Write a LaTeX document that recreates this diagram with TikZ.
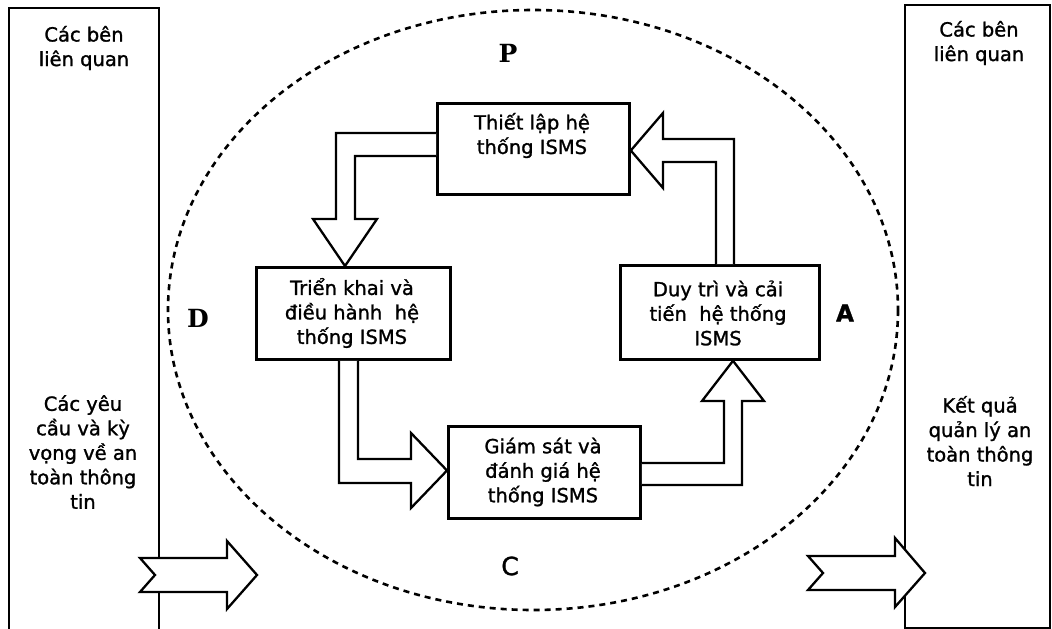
\documentclass[tikz,border=0pt]{standalone}
\usepackage{fontspec}
\setmainfont{DejaVu Sans}[RawFeature={embolden=1.3}]
\newfontfamily\pfont{DejaVu Serif}
\usetikzlibrary{calc}
\begin{document}
\begin{tikzpicture}[x=1pt,y=-1pt,
  proc/.style={draw, line width=2.8pt, inner sep=0pt, anchor=north west},
  txt/.style={align=center, font=\fontsize{19.5}{24.5}\selectfont, inner sep=0pt},
  blk/.style={draw, fill=white, line width=2.3pt, line join=miter},
  side/.style={line width=2.5pt},
  letter/.style={inner sep=0pt}
]
\useasboundingbox (0,0) rectangle (1052,629);

% side boxes
\draw[side] (9,632) -- (9,8) -- (159,8) -- (159,632);
\draw[side] (905,5) rectangle (1050,628);
\node[txt] (lt) at (84,48) {Các bên\\liên quan};
\node[txt] (lb) at (83,452) {Các yêu\\cầu và kỳ\\vọng về an\\toàn thông\\tin};
\node[txt] (rt) at (979,43) {Các bên\\liên quan};
\node[txt] (rb) at (980,441) {Kết quả\\quản lý an\\toàn thông\\tin};

% dashed cycle
\draw[line width=2.6pt, dash pattern=on 6pt off 5pt] (533,310) ellipse [x radius=365, y radius=300];

% PDCA letters
\node[letter, font=\pfont\bfseries\fontsize{25}{25}\selectfont] (P) at (508,53) {P};
\node[letter, font=\pfont\bfseries\fontsize{25}{25}\selectfont] (D) at (198,318) {D};
\node[letter, font=\bfseries\fontsize{23}{23}\selectfont] (A) at (845,313) {A};
\node[letter, font=\fontsize{25}{25}\selectfont] (C) at (510,566) {C};

% process boxes
\node[proc, minimum width=192pt, minimum height=91pt] (plan) at (436,102) {};
\node[proc, minimum width=194pt, minimum height=92pt] (do) at (255,266) {};
\node[proc, minimum width=199pt, minimum height=94pt] (act) at (619,264) {};
\node[proc, minimum width=192pt, minimum height=92pt] (check) at (447,425) {};

\node[txt] (plant) at (532,135.5) {Thiết lập hệ\\thống ISMS};
\node[txt] (dot) at (352,313) {Triển khai và\\điều hành~~hệ\\thống ISMS};
\node[txt] (actt) at (718,313) {Duy trì và cải\\tiến~~hệ thống\\ISMS};
\node[txt] (checkt) at (543,472) {Giám sát và\\đánh giá hệ\\thống ISMS};

% hollow block arrows of the cycle
\draw[blk] (plan.west |- 0,133) -- (336,133) -- (336,219) -- (313,219) -- (do.north -| 345,0)
  -- (377,219) -- (355,219) -- (355,156) -- (plan.west |- 0,156);
\draw[blk] (do.south -| 339,0) -- (339,483) -- (411,483) -- (411,508) -- (check.west |- 0,470.5)
  -- (411,433) -- (411,459) -- (358,459) -- (do.south -| 358,0);
\draw[blk] (check.east |- 0,463) -- (724,463) -- (724,401) -- (702,401) -- (act.south -| 733,0)
  -- (764,401) -- (742,401) -- (742,485) -- (check.east |- 0,485);
\draw[blk] (act.north -| 716,0) -- (716,162) -- (663,162) -- (663,188) -- (plan.east |- 0,150.5)
  -- (663,113) -- (663,139) -- (734,139) -- (act.north -| 734,0);

% input / output arrows
\draw[blk] (140,558) -- (227,558) -- (227,541) -- (257,575) -- (227,609) -- (227,592)
  -- (140,592) -- (155,575) -- cycle;
\draw[blk] (808,556) -- (895,556) -- (895,538) -- (925,573) -- (895,607) -- (895,590)
  -- (808,590) -- (823,573) -- cycle;
\end{tikzpicture}
\end{document}
